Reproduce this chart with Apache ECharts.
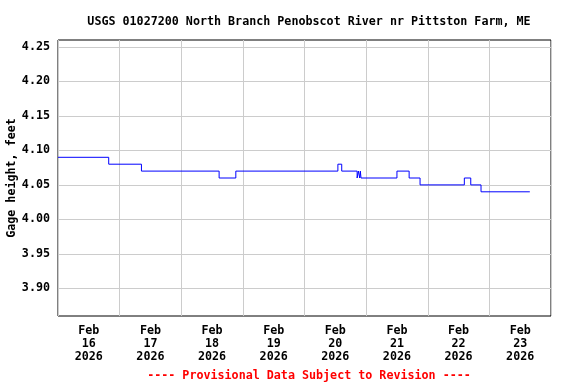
<!DOCTYPE html>
<html>
<head>
<meta charset="utf-8">
<script src="https://cdn.jsdelivr.net/npm/echarts@6/dist/echarts.min.js"></script>
<style>
html,body{margin:0;padding:0;background:#fff;}
#chart{width:576px;height:384px;}
</style>
</head>
<body>
<div id="chart"></div>
<script>
// Hours since Feb 16 2026 00:00 at which the gage height changes
const times = [0, 19.75, 32.5, 62.75, 69.25, 109, 110.5, 116.5, 117, 117.5, 117.75, 118, 132, 136.75, 141, 158.25, 160.75, 164.75, 183.75];
const values = [4.09, 4.08, 4.07, 4.06, 4.07, 4.08, 4.07, 4.06, 4.07, 4.06, 4.07, 4.06, 4.07, 4.06, 4.05, 4.06, 4.05, 4.04, 4.04];
const dayLabels = ['Feb\n16\n2026', 'Feb\n17\n2026', 'Feb\n18\n2026', 'Feb\n19\n2026', 'Feb\n20\n2026', 'Feb\n21\n2026', 'Feb\n22\n2026', 'Feb\n23\n2026'];
const yTicks = [3.90, 3.95, 4.00, 4.05, 4.10, 4.15, 4.20, 4.25];

const FONT = 'DejaVu Sans Mono';
const chart = echarts.init(document.getElementById('chart'), null, {renderer: 'canvas'});
chart.setOption({
  animation: false,
  backgroundColor: '#fff',
  title: [{
    text: 'USGS 01027200 North Branch Penobscot River nr Pittston Farm, ME',
    left: 304, top: 11, textAlign: 'center',
    textStyle: {fontFamily: FONT, fontWeight: 'bold', fontSize: 11.7, color: '#000'}
  }, {
    text: '---- Provisional Data Subject to Revision ----',
    left: 304, top: 365, textAlign: 'center',
    textStyle: {fontFamily: FONT, fontWeight: 'bold', fontSize: 11.7, color: '#ff0000'}
  }],
  grid: {left: 58, right: 25, top: 40, bottom: 68, show: true, borderColor: '#000', borderWidth: 1, containLabel: false, outerBoundsMode: 'none'},
  xAxis: [{
    type: 'category', data: dayLabels, boundaryGap: true, position: 'bottom',
    axisLine: {show: false}, axisTick: {show: false}, splitLine: {show: false},
    axisLabel: {interval: 0, margin: 8, lineHeight: 13, fontFamily: FONT, fontWeight: 'bold', fontSize: 11.7, color: '#000'}
  }, {
    type: 'value', min: 0, max: 192, interval: 24, position: 'bottom',
    axisLine: {show: false}, axisTick: {show: false}, axisLabel: {show: false},
    splitLine: {show: true, lineStyle: {color: '#cccccc', width: 1}}
  }],
  yAxis: {
    type: 'value', min: 3.86, max: 4.26,
    name: 'Gage height, feet', nameLocation: 'middle', nameGap: 46, nameRotate: 90, nameMoveOverlap: false,
    nameTextStyle: {fontFamily: FONT, fontWeight: 'bold', fontSize: 11.7, color: '#000', verticalAlign: 'middle'},
    axisLine: {show: false},
    axisTick: {show: false, customValues: yTicks},
    axisLabel: {customValues: yTicks, margin: 8, fontFamily: FONT, fontWeight: 'bold', fontSize: 11.7, color: '#000',
      formatter: v => v.toFixed(2)},
    splitLine: {show: true, lineStyle: {color: '#cccccc', width: 1}}
  },
  series: [{
    type: 'line', xAxisIndex: 1, step: 'end', showSymbol: false, symbol: 'none',
    lineStyle: {color: '#0000ff', width: 1},
    data: times.map((t, i) => [t, values[i]])
  }]
});
</script>
</body>
</html>
